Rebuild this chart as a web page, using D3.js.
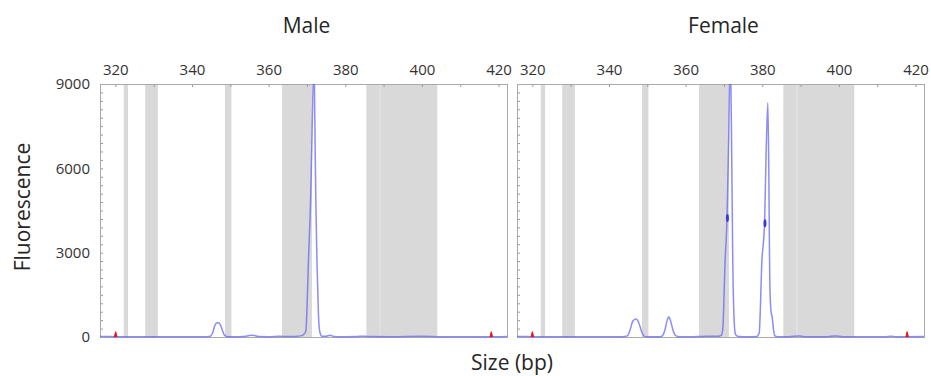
<!DOCTYPE html>
<html>
<head>
<meta charset="utf-8">
<script src="https://cdn.jsdelivr.net/npm/d3@7"></script>
<style>
  body { margin: 0; background: #fff; }
  svg { display: block; }
  text { font-family: "Open Sans", sans-serif; }
</style>
</head>
<body>
<script>
// size axis labels (bp) and fluorescence axis labels
const sizeLabels = [320, 340, 360, 380, 400, 420];
const fluorLabels = [0, 3000, 6000, 9000];

// grey bins shown behind the traces, [start, end] in bp
const bins = [[322.2, 323.3], [327.8, 331.1], [348.6, 350.3], [363.5, 371.3], [385.5, 389.0], [389.1, 404.0]];

// blue trace, male sample: [bp, fluorescence]
const maleTrace = [
  [316.0, 15], [318.5, 15], [321, 10], [325, 12], [330, 8], [335, 10], [340, 8], [343, 10],
  [344.8, 30], [345.4, 150], [345.9, 380], [346.4, 500], [346.9, 510], [347.4, 440], [347.9, 250],
  [348.4, 80], [349, 20], [350, 8], [352.5, 10], [354.2, 25], [355.3, 60], [356.3, 50], [357.3, 15],
  [360, 10], [363, 25], [365, 15], [367, 20], [368.4, 40], [369.2, 100], [369.7, 200], [370.4, 2740],
  [371.0, 5120], [371.4, 7720], [371.85, 9900], [372.05, 7800], [372.3, 5000], [372.6, 2740],
  [373.0, 800], [373.4, 150], [373.9, 30], [375, 25], [376, 60], [377, 20], [379, 10], [383, 15],
  [384.5, 30], [386, 15], [392, 10], [400, 25], [405, 10], [418, 10], [422.2, 15]
];

// blue trace, female sample
const femaleTrace = [
  [316.0, 15], [318.5, 15], [321, 10], [325, 12], [330, 8], [335, 10], [340, 8], [343.5, 10],
  [344.8, 40], [345.5, 250], [346.2, 560], [347.0, 640], [347.8, 500], [348.5, 200], [349.2, 30],
  [350, 8], [352.5, 10], [353.8, 30], [354.6, 250], [355.2, 600], [355.6, 720], [356.1, 560],
  [356.8, 200], [357.5, 40], [358.3, 10], [362, 10], [364, 20], [367, 25], [368.5, 30], [369.3, 60],
  [369.7, 300], [370.3, 2700], [370.8, 4230], [371.2, 6800], [371.65, 9900], [371.95, 7500],
  [372.3, 2700], [372.6, 800], [372.95, 120], [373.5, 30], [376, 10], [378.6, 20], [379.2, 150],
  [379.9, 2700], [380.6, 4050], [381.0, 6500], [381.45, 8330], [381.7, 6000], [381.9, 2700],
  [382.1, 1300], [382.35, 850], [382.6, 700], [382.9, 300], [383.3, 40], [384, 10], [387, 10],
  [389.5, 40], [391, 10], [397, 10], [399, 40], [401, 10], [412, 10], [413.5, 25], [415, 10], [422.2, 15]
];

// red size-standard peaks
const maleLadder = [[[319.75, 0], [320.1, 190], [320.45, 0]], [[417.75, 0], [418.1, 190], [418.45, 0]]];
const femaleLadder = [[[319.65, 0], [320.0, 190], [320.35, 0]], [[417.45, 0], [417.8, 190], [418.15, 0]]];

// dark peak-call marks on the female trace
const femaleCalls = [[370.8, 4230], [380.6, 4050]];

const width = 931, height = 376;
const plotTop = 84, plotBottom = 337, panelW = 407;

const panels = [
  { title: "Male", left: 100, trace: maleTrace, ladder: maleLadder, calls: [] },
  { title: "Female", left: 517, trace: femaleTrace, ladder: femaleLadder, calls: femaleCalls }
];

const svg = d3.select("body").append("svg")
    .attr("width", width)
    .attr("height", height);

const y = d3.scaleLinear().domain([0, 9000]).range([plotBottom, plotTop]);

panels.forEach((p, i) => {
  const x = d3.scaleLinear().domain([316, 422.2]).range([p.left, p.left + panelW]);
  const g = svg.append("g");

  g.append("clipPath").attr("id", "clip" + i)
    .append("rect")
    .attr("x", p.left).attr("y", plotTop)
    .attr("width", panelW).attr("height", plotBottom - plotTop + 2);

  g.selectAll("rect.bin").data(bins).join("rect")
    .attr("class", "bin")
    .attr("x", d => x(d[0]))
    .attr("y", plotTop)
    .attr("width", d => x(d[1]) - x(d[0]))
    .attr("height", plotBottom - plotTop)
    .attr("fill", "#d9d9d9");

  // top axis
  g.append("g")
    .attr("transform", `translate(0,${plotTop})`)
    .call(d3.axisTop(x).tickValues(d3.range(320, 421, 10)).tickSize(-3).tickPadding(9)
      .tickFormat(d => sizeLabels.includes(d) ? d : ""))
    .call(a => a.select(".domain").remove())
    .call(a => a.selectAll(".tick line").attr("stroke", "#999"))
    .call(a => a.selectAll("text").attr("font-size", 15).attr("fill", "#333")
      .attr("font-family", "Open Sans, sans-serif"));

  // left axis
  g.append("g")
    .attr("transform", `translate(${p.left},0)`)
    .call(d3.axisLeft(y).tickValues(d3.range(0, 9001, 300)).tickSize(-3).tickPadding(10)
      .tickFormat(d => i === 0 && fluorLabels.includes(d) ? d : ""))
    .call(a => a.select(".domain").remove())
    .call(a => a.selectAll(".tick line").attr("stroke", "#999"))
    .call(a => a.selectAll("text").attr("font-size", 15).attr("fill", "#333")
      .attr("font-family", "Open Sans, sans-serif"));

  const line = d3.line().x(d => x(d[0])).y(d => y(d[1])).curve(d3.curveMonotoneX);

  g.append("rect")
    .attr("x", p.left + 0.5).attr("y", plotTop + 0.5)
    .attr("width", panelW).attr("height", plotBottom - plotTop)
    .attr("fill", "none").attr("stroke", "#aaa");

  const plot = g.append("g").attr("clip-path", `url(#clip${i})`);

  plot.append("path")
    .datum(p.trace)
    .attr("d", line)
    .attr("fill", "none")
    .attr("stroke", "#6666f4")
    .attr("stroke-opacity", 0.75)
    .attr("stroke-width", 1.5);

  plot.selectAll("ellipse").data(p.calls).join("ellipse")
    .attr("cx", d => x(d[0]) + 0.4)
    .attr("cy", d => y(d[1]))
    .attr("rx", 1.5).attr("ry", 4)
    .attr("fill", "#3838e6");

  plot.selectAll("path.ladder").data(p.ladder).join("path")
    .attr("class", "ladder")
    .attr("d", d3.line().x(d => x(d[0])).y(d => y(d[1])))
    .attr("fill", "#ee1111")
    .attr("stroke", "#ee1111")
    .attr("stroke-width", 1);

  svg.append("text")
    .attr("x", p.left + panelW / 2 + 3)
    .attr("y", 33)
    .attr("text-anchor", "middle")
    .attr("font-size", 21)
    .attr("fill", "#262626")
    .text(p.title);
});

svg.append("text")
  .attr("transform", "translate(30,207) rotate(-90)")
  .attr("text-anchor", "middle")
  .attr("font-size", 21)
  .attr("fill", "#262626")
  .text("Fluorescence");

svg.append("text")
  .attr("x", 512)
  .attr("y", 370)
  .attr("text-anchor", "middle")
  .attr("font-size", 21)
  .attr("fill", "#262626")
  .text("Size (bp)");
</script>
</body>
</html>
